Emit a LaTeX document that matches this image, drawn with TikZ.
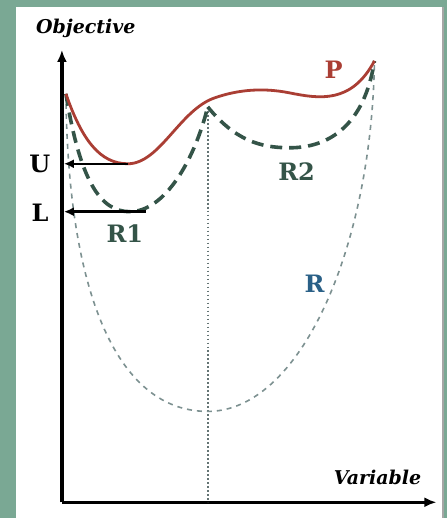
\documentclass[tikz,border=0pt]{standalone}
\usepackage{fontspec}
\setmainfont{DejaVu Serif}
\usetikzlibrary{arrows.meta}

\definecolor{frame}{RGB}{122,168,148}
\definecolor{pred}{RGB}{170,62,52}
\definecolor{rgreen}{RGB}{52,84,72}
\definecolor{rlight}{RGB}{125,145,145}
\definecolor{rblue}{RGB}{42,96,135}

\tikzset{
  axis/.style={line width=3.2pt,-{Latex[length=12pt,width=10pt]}},
  bound/.style={line width=2.4pt,-{Latex[length=10pt,width=9pt]}},
  lbl/.style={font=\bfseries\fontsize{24}{26}\selectfont},
  axlbl/.style={font=\bfseries\itshape\fontsize{19}{21}\selectfont},
  relax1/.style={rgreen,line width=3.6pt,dash pattern=on 12pt off 7pt},
  relax0/.style={rlight,line width=1.6pt,dash pattern=on 5pt off 5pt}
}

\begin{document}
\begin{tikzpicture}[x=1pt,y=-1pt]
    % fondo y panel
    \fill[frame] (0,0) rectangle (448,519);
    \fill[white] (16,7) rectangle (443,519);
    \draw[gray!70,line width=1.5pt] (443.5,7) -- (443.5,519);
    \useasboundingbox (0,0) rectangle (448,519);

    % puntos clave
    \coordinate (o) at (62,503);
    \coordinate (ytip) at (62,50);
    \coordinate (xtip) at (437,503);
    \coordinate (pa) at (66,94);
    \coordinate (pb) at (208,107);
    \coordinate (pc) at (375,61);
    \coordinate (pbot) at (208,503);
    \coordinate (umin) at (128,164);
    \coordinate (uax) at (64,164);
    \coordinate (lmin) at (146,212);
    \coordinate (lax) at (64,212);

    % ejes
    \draw[axis] (o) -- (ytip);
    \draw[axis] (o) -- (xtip);
    \node[axlbl] (obj) at (86,28) {Objective};
    \node[axlbl] (var) at (378,478) {Variable};

    % linea punteada vertical
    \draw[rlight!80!black,line width=1.8pt,dash pattern=on 1.8pt off 2.2pt] (pb) -- (pbot);

    % relajacion R
    \draw[relax0] (pa) .. controls (68,300) and (120,412) .. (208,412)
                       .. controls (300,412) and (372,250) .. (pc);
    \node[lbl,text=rblue] (r) at (315,284) {R};

    % relajaciones R1 y R2
    \draw[relax1] (pa) .. controls (80,180) and (100,212) .. (130,212)
                       .. controls (165,212) and (195,160) .. (pb);
    \draw[relax1] (pb) .. controls (235,140) and (260,148) .. (290,148)
                       .. controls (330,148) and (365,125) .. (pc);
    \node[lbl,text=rgreen] (r1) at (125,234) {R1};
    \node[lbl,text=rgreen] (r2) at (297,172) {R2};

    % problema P
    \draw[pred,line width=2.8pt] (pa) .. controls (82,140) and (100,164) .. (umin)
        .. controls (160,164) and (180,110) .. (215,98)
        .. controls (235,91) and (260,87) .. (290,93)
        .. controls (320,99) and (352,104) .. (pc);
    \node[lbl,text=pred] (p) at (334,70) {P};

    % cotas U y L
    \draw[bound] (umin) -- (uax);
    \draw[bound] (lmin) -- (lax);
    \node[lbl] (u) at (40,164) {U};
    \node[lbl] (l) at (40,213) {L};
\end{tikzpicture}
\end{document}
